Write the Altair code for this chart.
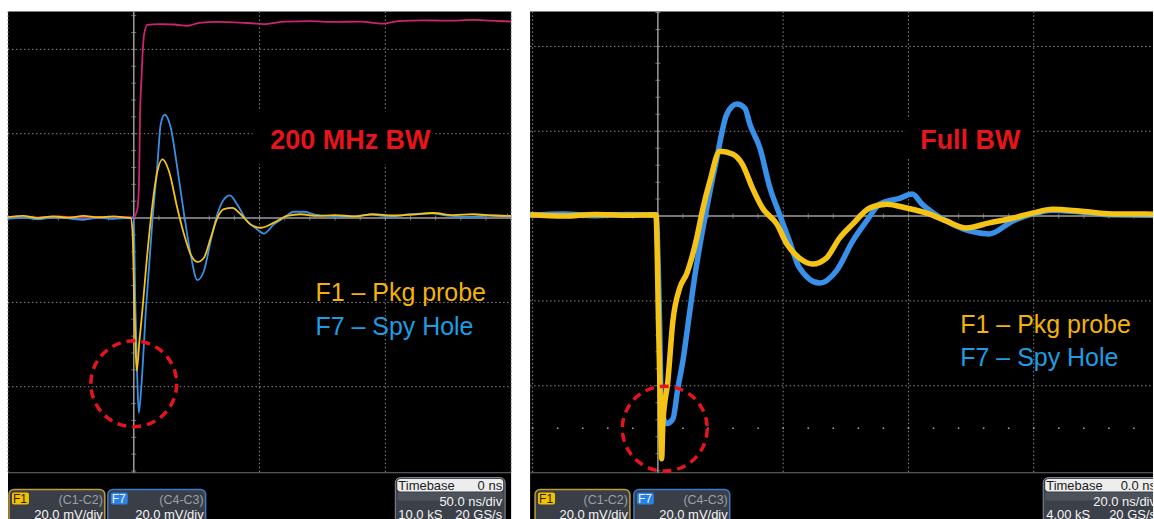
import altair as alt
import pandas as pd

FONT = "Liberation Sans"

# ---------------- 200 MHz bandwidth capture: 50 ns/div, 20 mV/div ----------------
bw200_t_f1 = [-50, -44, -38, -32, -26, -20, -14, -8, -3, -1.2, -0.5, 0.2, 0.8, 1.2, 2.2,
              3.4, 5.0, 6.7, 8.7, 11.4, 14.0, 17.3, 20.0, 22.6, 25.3, 27.9, 30.6, 33.2,
              35.8, 39.2, 42.5, 46.4, 50.4, 55.7, 61.0, 66.3, 72.9, 80, 88, 95, 103, 111,
              119, 127, 135, 143, 150]
bw200_v_f1 = [0.2, 0.5, 0.0, 0.4, 0.1, 0.5, 0.2, 0.4, 0.1, 0.0, -3.1, -20.0, -32.0, -36.2,
              -29.5, -22.0, -11.0, -0.7, 8.8, 13.9, 11.1, 2.4, -3.9, -8.6, -10.4, -9.4,
              -4.7, 0.0, 2.1, 2.4, 0.9, -1.5, -2.3, -1.1, 0.5, 0.9, 0.5, 0.7, 0.4, 0.9,
              0.6, 0.8, 1.2, 0.7, 0.9, 0.6, 0.5]

bw200_t_f7 = [-50, -44, -38, -32, -26, -20, -14, -8, -3, 0.0, 0.6, 1.4, 2.0, 3.0, 4.8, 7.4,
              9.4, 10.7, 12.3, 14.7, 17.3, 20.0, 22.6, 25.3, 27.9, 30.6, 33.2, 35.8, 38.2,
              41.1, 45.1, 49.1, 51.7, 55.7, 59.6, 63.6, 67.6, 71.5, 78, 86, 94, 102, 110,
              118, 126, 134, 142, 150]
bw200_v_f7 = [-0.2, 0.1, -0.3, 0.2, -0.1, -0.4, 0.1, -0.2, 0.0, 0.0, -20.0, -38.0, -46.2,
              -40.0, -22.0, -0.7, 12.7, 22.2, 24.5, 21.4, 11.9, 0.9, -8.6, -14.7, -12.5,
              -5.4, 0.9, 4.4, 5.4, 3.2, -0.7, -2.7, -3.7, -1.5, 0.0, 1.5, 1.5, 0.9, 0.5,
              0.3, 0.8, 0.4, 0.9, 1.1, 0.5, 0.3, 0.6, 0.4]

bw200_t_step = [-50, -40, -30, -20, -10, -1, 0.3, 0.8, 1.5, 2.1, 2.5, 3.0, 4.1, 5.4, 10,
                16, 21.4, 26, 33, 40, 47, 51.6, 60, 70, 80, 90, 99, 105, 115, 125, 135,
                142, 150]
bw200_v_step = [0.3, 0.1, 0.4, 0.0, 0.3, 0.2, 0.2, 0.9, 2.4, 8.8, 24.5, 32.4, 43.5, 45.8,
                46.0, 45.9, 45.6, 46.3, 46.5, 46.4, 46.2, 46.0, 46.6, 46.7, 46.5, 46.6,
                46.1, 46.7, 46.9, 46.8, 47.0, 46.8, 46.6]

# ---------------- full bandwidth capture: 20 ns/div, 20 mV/div ----------------
full_t_f1 = [-20.4, -15, -10, -5, -0.3, 0.1, 0.4, 0.6, 0.8, 1.6, 2.4, 3.5, 4.6, 6.2, 7.2,
             8.3, 9.9, 12.0, 13.5, 15.1, 16.7, 19.0, 20.6, 22.6, 24.7, 26.9, 29.0, 31.1,
             33.8, 36.5, 39.7, 43.3, 46.1, 49.2, 52.9, 56.6, 59.8, 63.0, 67.3, 72.5,
             77.9, 79.1]
full_v_f1 = [0.3, 0.0, 0.4, 0.2, 0.3, -25.0, -45.0, -57.2, -48.9, -38.8, -24.7, -16.9,
             -13.6, -5.2, 1.9, 8.2, 15.3, 14.6, 12.2, 6.6, 1.9, -1.9, -6.6, -9.9, -11.3,
             -9.9, -5.2, -1.9, 1.9, 2.8, 1.9, 0.5, -1.2, -2.8, -1.6, -0.5, 0.7, 1.6, 1.2,
             0.5, 0.5, 0.4]

full_t_f7 = [-20.4, -15, -10, -5, -0.3, 0.2, 0.6, 1.4, 2.4, 3.2, 4.0, 5.1, 5.9, 7.8, 9.4,
             11.0, 12.6, 13.9, 14.7, 16.3, 17.9, 19.4, 21.0, 22.6, 25.8, 28.5, 31.1, 33.3,
             35.4, 38.6, 40.6, 42.2, 46.1, 49.7, 52.9, 56.6, 59.8, 63.0, 67.3, 72.5,
             77.9, 79.1]
full_v_f7 = [0.2, 0.5, 0.1, 0.4, 0.2, -20.0, -45.9, -48.9, -47.8, -40.5, -34.1, -22.4,
             -14.1, 1.9, 13.6, 24.0, 26.4, 25.4, 21.6, 16.0, 6.6, 0.5, -5.9, -12.2, -15.8,
             -12.9, -5.9, -1.2, 2.8, 4.2, 5.2, 2.8, -1.2, -3.5, -4.2, -1.2, 0.5, 1.4, 1.0,
             0.3, 0.2, 0.2]

# screen extents of each graticule (ns, mV)
left_x_dom = [-50.0, 150.0]
left_y_dom = [-71.5, 49.0]
right_x_dom = [-20.4, 79.04]
right_y_dom = [-71.53, 48.24]

YELLOW = "#F5C316"
BLUE = "#3890E8"
MAGENTA = "#CC2470"
GRID = "#8a8a8a"
AXIS = "#9c9c9c"
RED = "#E8141C"
BOX_FILL = "#3a3e46"

ONE = pd.DataFrame({"k": [0]})


def rect(x0, y0, x1, y1, fill, stroke=None, r=0, sw=1.0):
    kw = dict(fill=fill, cornerRadius=r, clip=True)
    if stroke:
        kw.update(stroke=stroke, strokeWidth=sw)
    return alt.Chart(ONE).mark_rect(**kw).encode(
        x=alt.value(x0), x2=alt.value(x1), y=alt.value(y0), y2=alt.value(y1))


def txt(x, y, s, size, color, align="left", weight="normal"):
    return alt.Chart(ONE).mark_text(
        text=s, fontSize=size, color=color, align=align, baseline="alphabetic",
        fontWeight=weight, font=FONT, clip=True).encode(x=alt.value(x), y=alt.value(y))


def panel(xdom, ydom, w, h, series, grid_t, grid_v, bottom_v, tick_dt, tick_dv,
          title, title_xy, title_box, legend_xy, circle, info, dot_row=None):
    xs = alt.Scale(domain=xdom, nice=False, zero=False)
    ys = alt.Scale(domain=ydom, nice=False, zero=False)
    X = lambda f: alt.X(f, scale=xs, axis=None)
    Y = lambda f: alt.Y(f, scale=ys, axis=None)

    def vrules(ts, y_top, y_bot):
        return pd.DataFrame({"t": ts, "y0": [y_top] * len(ts), "y1": [y_bot] * len(ts)})

    def hrules(vs):
        return pd.DataFrame({"v": vs, "x0": [xdom[0]] * len(vs), "x1": [xdom[1]] * len(vs)})

    layers = []

    # dotted graticule
    layers.append(alt.Chart(vrules(grid_t, ydom[1], bottom_v)).mark_rule(
        color=GRID, strokeDash=[1.5, 2.5], strokeWidth=1).encode(
        x=X("t:Q"), y=Y("y0:Q"), y2="y1:Q"))
    layers.append(alt.Chart(hrules(grid_v)).mark_rule(
        color=GRID, strokeDash=[1.5, 2.5], strokeWidth=1).encode(
        y=Y("v:Q"), x=X("x0:Q"), x2="x1:Q"))
    # lower edge of the graticule
    layers.append(alt.Chart(hrules([bottom_v])).mark_rule(
        color="#6e6e6e", strokeWidth=1).encode(
        y=Y("v:Q"), x=X("x0:Q"), x2="x1:Q"))

    # black plate behind the bandwidth caption
    bx0, by0, bx1, by1 = title_box
    layers.append(rect(bx0, by0, bx1, by1, "black"))

    # centre axes with minor ticks
    layers.append(alt.Chart(vrules([0.0], ydom[1], bottom_v)).mark_rule(
        color=AXIS, strokeWidth=1.5).encode(x=X("t:Q"), y=Y("y0:Q"), y2="y1:Q"))
    layers.append(alt.Chart(hrules([0.0])).mark_rule(
        color=AXIS, strokeWidth=1.5).encode(y=Y("v:Q"), x=X("x0:Q"), x2="x1:Q"))
    vt = [k * tick_dv for k in range(int(bottom_v // tick_dv) + 1, int(ydom[1] // tick_dv) + 1)]
    tt = [k * tick_dt for k in range(int(xdom[0] // tick_dt), int(xdom[1] // tick_dt) + 1)]
    layers.append(alt.Chart(pd.DataFrame({"v": vt, "t": [0.0] * len(vt)})).mark_tick(
        orient="horizontal", size=5, thickness=1, color=AXIS).encode(
        y=Y("v:Q"), x=X("t:Q")))
    layers.append(alt.Chart(pd.DataFrame({"t": tt, "v": [0.0] * len(tt)})).mark_tick(
        orient="vertical", size=5, thickness=1, color=AXIS).encode(
        x=X("t:Q"), y=Y("v:Q")))
    if dot_row is not None:
        dv, dts = dot_row
        layers.append(alt.Chart(pd.DataFrame({"t": dts, "v": [dv] * len(dts)})).mark_square(
            size=2.5, color="#a0a0a0", opacity=1).encode(x=X("t:Q"), y=Y("v:Q")))

    # traces
    for t, v, color, sw in series:
        layers.append(alt.Chart(pd.DataFrame({"t": t, "v": v})).mark_line(
            color=color, strokeWidth=sw, clip=True, interpolate="monotone",
            strokeJoin="round").encode(x=X("t:Q"), y=Y("v:Q")))

    # dashed marker round the first dip
    ct, cv, csize = circle
    layers.append(alt.Chart(pd.DataFrame({"t": [ct], "v": [cv]})).mark_point(
        shape="circle", size=csize, filled=False, color=RED, strokeWidth=3.5,
        strokeDash=[9, 6], opacity=1).encode(x=X("t:Q"), y=Y("v:Q")))

    # captions
    layers.append(txt(title_xy[0], title_xy[1], title, 27, RED, "center", "bold"))
    lx, ly1, ly2 = legend_xy
    layers.append(txt(lx, ly1, "F1 \u2013 Pkg probe", 25, "#F2B40A"))
    layers.append(txt(lx, ly2, "F7 \u2013 Spy Hole", 25, "#1E9EE2"))

    # channel / timebase descriptors along the bottom
    f1x, f7x, tbx, tb_texts = info
    for (x0, x1), badge, bcol, btxt, scol, src in [
            (f1x, "F1", "#F2C200", "#2a2000", "#BF9C3A", "(C1-C2)"),
            (f7x, "F7", "#2A82E4", "#e8f1ff", "#3C7ACC", "(C4-C3)")]:
        layers.append(rect(x0, 479, x1, 530, BOX_FILL, scol, 5, 1.5))
        layers.append(rect(x0 + 3, 482, x0 + 20, 494, bcol, None, 2))
        layers.append(txt(x0 + 4, 492.5, badge, 12, btxt))
        layers.append(txt(x1 - 2, 493, src, 12.5, "#9aa0aa", "right"))
        layers.append(txt(x1 - 2, 508, "20.0 mV/div", 13, "#f4f4f4", "right"))
    t0, t1 = tbx
    layers.append(rect(t0, 467, t1, 530, "#3b4049", "#8c9099", 5, 1))
    layers.append(rect(t0 + 2, 468.5, t1 - 2, 481, "#ededed", None, 3))
    layers.append(rect(t0 + 2, 482, t1 - 2, 490, "#4d525b"))
    off, per_div, samples = tb_texts
    layers.append(txt(t0 + 3, 479, "Timebase", 13, "#1c1c1c"))
    layers.append(txt(t1 - 3, 479, off, 13, "#1c1c1c", "right"))
    layers.append(txt(t1 - 3, 495, per_div, 13, "#f4f4f4", "right"))
    layers.append(txt(t0 + 3, 508, samples, 13, "#f4f4f4"))
    layers.append(txt(t1 - 3, 508, "20 GS/s", 13, "#f4f4f4", "right"))

    return alt.layer(*layers).properties(width=w, height=h)


left = panel(
    left_x_dom, left_y_dom, 504, 509,
    [(bw200_t_step, bw200_v_step, MAGENTA, 1.8),
     (bw200_t_f7, bw200_v_f7, BLUE, 1.8),
     (bw200_t_f1, bw200_v_f1, YELLOW, 1.8)],
    grid_t=[-50, 50, 100, 150], grid_v=[40, 20, -20, -40], bottom_v=-60.4,
    tick_dt=10, tick_dv=4,
    title="200 MHz BW", title_xy=(343, 138), title_box=(245, 100, 428, 153),
    legend_xy=(308, 290, 324),
    circle=(0.0, -39.3, 7396),
    info=((1, 97), (100, 198), (388, 498), ("0 ns", "50.0 ns/div", "10.0 kS")),
)

right = panel(
    right_x_dom, right_y_dom, 624, 509,
    [(full_t_f7, full_v_f7, BLUE, 5.5),
     (full_t_f1, full_v_f1, YELLOW, 5.5)],
    grid_t=[-20, 20, 40, 60], grid_v=[40, 20, -20, -40], bottom_v=-60.5,
    tick_dt=4, tick_dv=4,
    title="Full BW", title_xy=(441, 138), title_box=(376, 108, 504, 147),
    legend_xy=(431, 322, 355),
    circle=(1.1, -50.1, 7225),
    info=((5, 100), (104, 200), (514, 630), ("0.0 ns", "20.0 ns/div", "4.00 kS")),
    dot_row=(-50.0, [-20, -16, -12, -8, -4, 4, 8, 12, 16, 20, 24, 28, 32, 36, 40, 44, 48,
                      52, 56, 60, 64, 68, 72, 76]),
)

chart = alt.hconcat(left, right, spacing=19, bounds="flush").properties(
    padding={"left": 7, "top": 10, "right": 0, "bottom": 0},
    background="white",
).configure_view(fill="black", stroke=None)

chart.save("out.html", embed_options={"renderer": "svg", "actions": False})
